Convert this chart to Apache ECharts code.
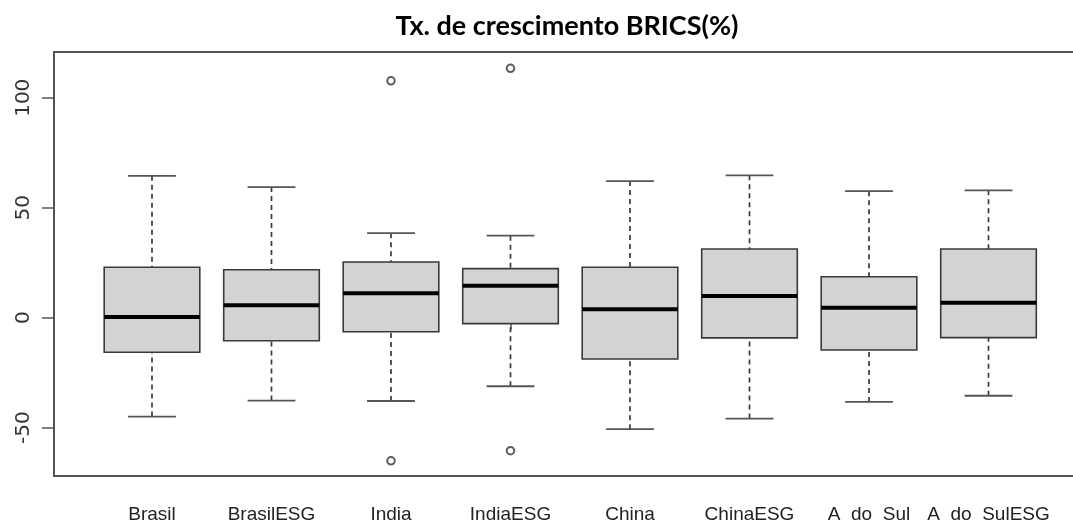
<!DOCTYPE html>
<html>
<head>
<meta charset="utf-8">
<style>
  html, body { margin: 0; padding: 0; background: #fff; }
  #chartmain { width: 1073px; height: 522px; }
</style>
<script src="https://cdn.jsdelivr.net/npm/echarts@6/dist/echarts.min.js"></script>
</head>
<body>
<div id="chartmain"></div>
<script>
var categories = ['Brasil', 'BrasilESG', 'India', 'IndiaESG', 'China', 'ChinaESG', 'A  do  Sul', 'A  do  SulESG'];
var whiskerLow = [-45.0, -37.7, -37.9, -31.2, -50.7, -45.9, -38.3, -35.5];
var q1 = [-15.7, -10.5, -6.4, -2.7, -18.8, -9.2, -14.7, -9.1];
var median = [0.3, 5.6, 11.1, 14.5, 3.8, 9.9, 4.5, 6.8];
var q3 = [22.9, 21.8, 25.3, 22.3, 22.9, 31.2, 18.6, 31.2];
var whiskerHigh = [64.5, 59.4, 38.4, 37.3, 62.1, 64.7, 57.5, 57.9];
// outliers: posição da caixa (1..8) e valor
var outlierBox = [3, 3, 4, 4];
var outlierValue = [107.7, -65.1, 113.4, -60.5];
var yTicks = [-50, 0, 50, 100];

var boxData = categories.map(function (c, i) {
	return [i + 1, whiskerLow[i], q1[i], median[i], q3[i], whiskerHigh[i]];
});
var outlierData = outlierBox.map(function (b, i) {
	return [b, outlierValue[i]];
});

function renderBox(params, api) {
	var x = api.value(0);
	var halfW = 0.4, capW = 0.2;
	var lo = api.coord([x, api.value(1)]);
	var b1 = api.coord([x - halfW, api.value(2)]);
	var md1 = api.coord([x - halfW, api.value(3)]);
	var md2 = api.coord([x + halfW, api.value(3)]);
	var b2 = api.coord([x + halfW, api.value(4)]);
	var hi = api.coord([x, api.value(5)]);
	var c1 = api.coord([x - capW, 0])[0];
	var c2 = api.coord([x + capW, 0])[0];
	var dash = { stroke: '#3a3a3a', lineWidth: 1.7, lineDash: [5, 4] };
	var solid = { stroke: '#555', lineWidth: 1.8 };
	return {
		type: 'group',
		children: [
			{ type: 'line', shape: { x1: lo[0], y1: lo[1], x2: lo[0], y2: b1[1] }, style: dash },
			{ type: 'line', shape: { x1: hi[0], y1: hi[1], x2: hi[0], y2: b2[1] }, style: dash },
			{ type: 'line', shape: { x1: c1, y1: lo[1], x2: c2, y2: lo[1] }, style: solid },
			{ type: 'line', shape: { x1: c1, y1: hi[1], x2: c2, y2: hi[1] }, style: solid },
			{
				type: 'rect',
				shape: { x: b1[0], y: b2[1], width: b2[0] - b1[0], height: b1[1] - b2[1] },
				style: { fill: '#d3d3d3', stroke: '#3a3a3a', lineWidth: 1.6 }
			},
			{ type: 'line', shape: { x1: md1[0], y1: md1[1], x2: md2[0], y2: md2[1] }, style: { stroke: '#000', lineWidth: 4 } }
		]
	};
}

var option = {
	animation: false,
	backgroundColor: '#fff',
	title: {
		text: 'Tx. de crescimento BRICS(%)',
		left: 562,
		textAlign: 'center',
		top: 8,
		textStyle: {
			fontFamily: 'Lato',
			fontWeight: 'bold',
			fontSize: 27,
			color: '#000'
		}
	},
	grid: {
		left: 54,
		top: 52,
		width: 1032.5,
		height: 424,
		outerBoundsMode: 'none',
		containLabel: false,
		show: true,
		borderColor: '#555',
		borderWidth: 2,
		backgroundColor: 'transparent'
	},
	xAxis: {
		type: 'value',
		min: 0.18,
		max: 8.82,
		splitLine: { show: false },
		axisLine: { show: false },
		axisTick: {
			show: true,
			length: 12,
			customValues: [1, 2, 3, 4, 5, 6, 7, 8],
			lineStyle: { color: '#555', width: 1.5 }
		},
		axisLabel: {
			customValues: [1, 2, 3, 4, 5, 6, 7, 8],
			margin: 29,
			fontFamily: 'Liberation Sans',
			fontSize: 19,
			color: '#222',
			formatter: function (v) {
				return categories[Math.round(v) - 1];
			}
		}
	},
	yAxis: {
		type: 'value',
		min: -72,
		max: 120.8,
		splitLine: { show: false },
		axisLine: { show: false },
		axisTick: {
			show: true,
			length: 12,
			customValues: yTicks,
			lineStyle: { color: '#555', width: 1.5 }
		},
		axisLabel: {
			customValues: yTicks,
			rotate: 90,
			margin: 20,
			fontFamily: 'DejaVu Sans',
			fontSize: 20,
			color: '#333'
		}
	},
	series: [{
		type: 'custom',
		renderItem: renderBox,
		encode: { x: 0, y: [1, 2, 3, 4, 5] },
		data: boxData
	}, {
		type: 'scatter',
		symbol: 'emptyCircle',
		symbolSize: 7.5,
		itemStyle: { color: '#333', borderWidth: 1.5 },
		data: outlierData
	}]
};

var myChart = echarts.init(document.getElementById('chartmain'));
myChart.setOption(option);
</script>
</body>
</html>
